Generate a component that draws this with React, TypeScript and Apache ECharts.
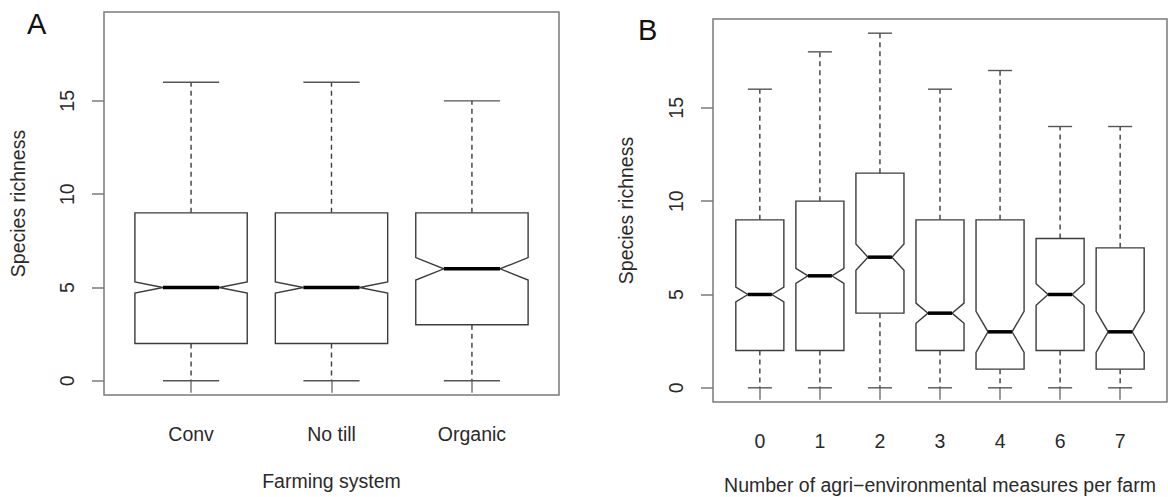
import React, { useEffect, useRef } from "react";
import * as echarts from "echarts";

// Panel A: farming system
const categoriesA = ["Conv", "No till", "Organic"];
const lowerA = [0, 0, 0];
const q1A = [2, 2, 3];
const medianA = [5, 5, 6];
const q3A = [9, 9, 9];
const upperA = [16, 16, 15];
const notchA = [0.3, 0.3, 0.6];

// Panel B: number of agri-environmental measures per farm
const categoriesB = ["0", "1", "2", "3", "4", "6", "7"];
const lowerB = [0, 0, 0, 0, 0, 0, 0];
const q1B = [2, 2, 4, 2, 1, 2, 1];
const medianB = [5, 6, 7, 4, 3, 5, 3];
const q3B = [9, 10, 11.5, 9, 9, 8, 7.5];
const upperB = [16, 18, 19, 16, 17, 14, 14];
const notchB = [0.4, 0.4, 0.7, 0.54, 1.1, 0.58, 1.1];

const yTicks = [0, 5, 10, 15];
const Y_MIN = -0.76;
const Y_MAX = 19.76;

const FONT = "Liberation Sans, Arial, Helvetica, sans-serif";
const TEXT = "#2a2a2a";
const LINE = "#3c3c3c";
const FRAME = "#7a7a7a";
const FS = 19.5;

function buildData(lo: number[], q1: number[], med: number[], q3: number[], hi: number[], n: number[]) {
  return lo.map((_, i) => [i + 1, lo[i], q1[i], med[i] - n[i], med[i], med[i] + n[i], q3[i], hi[i]]);
}

function renderBox(params: any, api: any) {
  const x = api.value(0);
  const lo = api.value(1);
  const q1 = api.value(2);
  const nLo = api.value(3);
  const med = api.value(4);
  const nHi = api.value(5);
  const q3 = api.value(6);
  const hi = api.value(7);
  const c = (xx: number, yy: number) => api.coord([xx, yy]);
  const cx = c(x, 0)[0];
  const w = api.size([0.8, 0])[0] / 2;
  const Y = (v: number) => c(x, v)[1];
  const pts = [
    [cx - w, Y(q1)],
    [cx - w, Y(nLo)],
    [cx - w / 2, Y(med)],
    [cx - w, Y(nHi)],
    [cx - w, Y(q3)],
    [cx + w, Y(q3)],
    [cx + w, Y(nHi)],
    [cx + w / 2, Y(med)],
    [cx + w, Y(nLo)],
    [cx + w, Y(q1)],
  ];
  const dashStyle = { stroke: LINE, lineWidth: 1.4, lineDash: [5, 4] };
  const capStyle = { stroke: "#555", lineWidth: 1.4 };
  return {
    type: "group",
    children: [
      { type: "line", shape: { x1: cx, y1: Y(q3), x2: cx, y2: Y(hi) }, style: dashStyle },
      { type: "line", shape: { x1: cx, y1: Y(q1), x2: cx, y2: Y(lo) }, style: dashStyle },
      { type: "line", shape: { x1: cx - w / 2, y1: Y(hi), x2: cx + w / 2, y2: Y(hi) }, style: capStyle },
      { type: "line", shape: { x1: cx - w / 2, y1: Y(lo), x2: cx + w / 2, y2: Y(lo) }, style: capStyle },
      { type: "polygon", shape: { points: pts }, style: { fill: "#fff", stroke: LINE, lineWidth: 1.4 } },
      { type: "line", shape: { x1: cx - w / 2, y1: Y(med), x2: cx + w / 2, y2: Y(med) }, style: { stroke: "#000", lineWidth: 3.5 } },
    ],
  };
}

function xAxisFor(idx: number, cats: string[], name: string, nameGap: number, min: number, max: number) {
  const vals = cats.map((_, i) => i + 1);
  return {
    type: "value",
    gridIndex: idx,
    min,
    max,
    name,
    nameLocation: "middle",
    nameGap,
    nameTextStyle: { fontFamily: FONT, fontSize: FS, color: TEXT },
    axisLine: { show: false },
    splitLine: { show: false },
    axisTick: { show: true, inside: false, length: 12, customValues: vals, lineStyle: { color: FRAME, width: 1.5 } },
    axisLabel: {
      show: true,
      customValues: vals,
      margin: 29,
      fontFamily: FONT,
      fontSize: FS,
      color: TEXT,
      formatter: (v: number) => cats[Math.round(v) - 1] ?? "",
    },
  };
}

function yAxisFor(idx: number, nameGap: number) {
  return {
    type: "value",
    gridIndex: idx,
    min: Y_MIN,
    max: Y_MAX,
    name: "Species richness",
    nameLocation: "middle",
    nameGap,
    nameRotate: 90,
    nameTextStyle: { fontFamily: FONT, fontSize: FS, color: TEXT },
    axisLine: { show: false },
    splitLine: { show: false },
    axisTick: { show: true, inside: false, length: 12, customValues: yTicks, lineStyle: { color: FRAME, width: 1.5 } },
    axisLabel: {
      show: true,
      customValues: yTicks,
      rotate: 90,
      margin: 27,
      fontFamily: FONT,
      fontSize: FS,
      color: TEXT,
      formatter: (v: number) => String(Math.round(v)),
    },
  };
}

export default function App() {
  const ref = useRef<HTMLDivElement>(null);
  useEffect(() => {
    if (!ref.current) return;
    const chart = echarts.init(ref.current, undefined, { renderer: "svg" });
    chart.setOption({
      animation: false,
      backgroundColor: "#fff",
      title: [
        { text: "A", left: 22, top: 4, textStyle: { fontFamily: FONT, fontSize: 29, fontWeight: "normal", color: "#111" } },
        { text: "B", left: 633, top: 10, textStyle: { fontFamily: FONT, fontSize: 29, fontWeight: "normal", color: "#111" } },
      ],
      grid: [
        { left: 104, top: 12, width: 455, height: 383, outerBoundsMode: "none", containLabel: false, show: true, borderColor: FRAME, borderWidth: 1.5, backgroundColor: "transparent" },
        { left: 713, top: 19, width: 454, height: 383, outerBoundsMode: "none", containLabel: false, show: true, borderColor: FRAME, borderWidth: 1.5, backgroundColor: "transparent" },
      ],
      xAxis: [
        xAxisFor(0, categoriesA, "Farming system", 76, 0.38, 3.62),
        xAxisFor(1, categoriesB, "Number of agri\u2212environmental measures per farm", 73, 0.22, 7.78),
      ],
      yAxis: [yAxisFor(0, 76), yAxisFor(1, 77)],
      series: [
        {
          type: "custom",
          xAxisIndex: 0,
          yAxisIndex: 0,
          renderItem: renderBox,
          encode: { x: 0, y: [1, 2, 3, 4, 5, 6, 7] },
          data: buildData(lowerA, q1A, medianA, q3A, upperA, notchA),
        },
        {
          type: "custom",
          xAxisIndex: 1,
          yAxisIndex: 1,
          renderItem: renderBox,
          encode: { x: 0, y: [1, 2, 3, 4, 5, 6, 7] },
          data: buildData(lowerB, q1B, medianB, q3B, upperB, notchB),
        },
      ],
    });
    return () => chart.dispose();
  }, []);
  return <div ref={ref} style={{ position: "absolute", left: 0, top: 0, width: 1168, height: 497 }} />;
}
